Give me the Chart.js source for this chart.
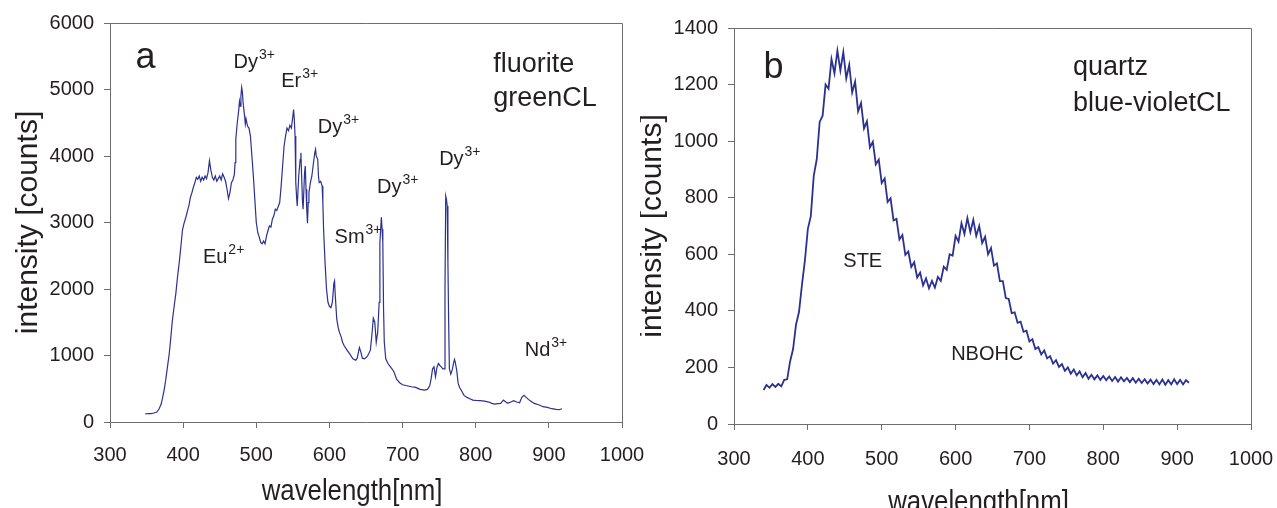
<!DOCTYPE html>
<html>
<head>
<meta charset="utf-8">
<script src="https://cdn.jsdelivr.net/npm/chart.js@4/dist/chart.umd.min.js"></script>
<style>
  html, body { margin: 0; padding: 0; background: #fff; }
  #wrap { position: relative; width: 1277px; height: 508px; overflow: hidden; }
  #chart-a { position: absolute; left: 0; top: 0; }
  #chart-b { position: absolute; left: 640px; top: 0; }
</style>
</head>
<body>
<div id="wrap">
  <canvas id="chart-a" width="680" height="508"></canvas>
  <canvas id="chart-b" width="637" height="508"></canvas>
</div>
<script>
// --- Data: (a) fluorite, green CL ---
const waveA = [348,352,356,360,364,367,370,372,374,376,378,381,383,385,387,390,392,395,397,399,401,404,406,408,410,412,414,416,418,420,422,424,426,428,430,432,434,436,438,440,442,444,446,448,450,452,454,456,458,460,462,464,466,468,470,471,472,474,476,477,478,479,480,481,482,484,485,486,488,490,492,494,496,498,500,502,504,506,508,510,512,514,516,518,520,522,524,526,528,530,532,534,536,538,540,542,544,546,548,550,551,552,553,554,555,556,558,560,561,562,563,564,566,567,568,569,570,571,572,574,576,578,580,581,582,584,585,586,588,590,591,592,594,596,598,600,602,604,606,607,608,610,612,614,616,618,620,624,628,632,636,638,641,643,645,648,652,656,658,660,662,664,666,668,669,671,672,673,674,675,677,680,684,688,692,696,700,706,712,718,724,730,734,737,739,741,743,745,747,749,751,753,755,757,758,759,760,761,762,763,764,766,768,770,771,772,774,776,778,780,784,788,792,796,800,806,812,818,822,826,830,834,838,841,844,848,852,856,860,863,866,869,872,876,880,886,892,898,904,910,914,918];
const intensA = [120,128,125,135,150,195,270,370,480,620,780,1030,1250,1500,1680,1930,2150,2430,2650,2880,2980,3090,3180,3260,3380,3450,3530,3600,3680,3650,3700,3620,3680,3640,3700,3660,3750,3930,3780,3680,3640,3700,3620,3660,3700,3640,3730,3680,3620,3500,3360,3450,3600,3640,3720,3900,4250,4500,4690,4820,4750,4900,5030,4960,4800,4600,4480,4560,4450,4420,4300,4000,3700,3350,3000,2850,2780,2700,2680,2720,2680,2800,2880,2950,2930,3050,3100,3200,3180,3240,3300,3550,3850,4150,4300,4420,4380,4460,4420,4600,4700,4550,4300,3600,3400,3250,3700,3950,4050,3700,3350,3200,3750,3850,3500,3200,2990,3300,3450,3600,3700,3880,4050,4100,4000,3950,3700,3600,3620,3550,3300,2900,2400,2000,1800,1740,1720,1800,2080,2120,1900,1550,1420,1340,1280,1200,1150,1080,1020,950,930,960,1120,1050,960,950,990,1080,1300,1560,1500,1200,1350,1800,2700,3080,2900,2700,1700,1200,950,880,820,760,640,590,560,545,530,520,490,480,490,540,650,800,830,680,820,880,850,830,800,800,2000,3400,3350,3250,2400,1500,800,720,790,900,940,900,780,580,520,480,400,370,350,330,325,320,315,300,280,270,275,280,330,300,280,300,320,300,290,370,400,370,340,310,280,260,230,220,200,190,185,200];

// --- Data: (b) quartz, blue-violet CL ---
const waveB = [340,344,348,352,356,360,364,368,372,376,380,384,388,392,396,400,404,408,412,416,420,424,428,432,436,440,444,448,452,456,460,464,468,472,476,480,484,488,492,496,500,504,508,512,516,520,524,528,532,536,540,544,548,552,556,560,564,568,572,576,580,584,588,592,596,600,604,608,612,616,620,624,628,632,636,640,644,648,652,656,660,664,668,672,676,680,684,688,692,696,700,704,708,712,716,720,724,728,732,736,740,744,748,752,756,760,764,768,772,776,780,784,788,792,796,800,804,808,812,816,820,824,828,832,836,840,844,848,852,856,860,864,868,872,876,880,884,888,892,896,900,904,908,912,916];
const intensB = [120,138,128,141,131,142,133,156,158,222,265,352,396,492,578,690,735,878,935,1068,1090,1200,1185,1290,1240,1320,1250,1315,1222,1270,1172,1210,1105,1135,1045,1070,978,998,918,935,852,868,785,798,720,725,652,668,598,610,555,572,518,535,490,515,480,506,482,520,506,556,545,600,595,665,645,710,672,728,678,722,665,700,640,662,600,622,560,568,505,505,445,442,392,395,358,362,326,330,292,300,265,272,246,260,232,240,214,226,202,212,188,200,178,193,172,186,165,180,160,174,158,172,156,170,155,168,152,166,150,165,151,163,148,162,146,160,145,158,143,157,141,156,140,157,139,155,140,158,141,156,140,155,146];

// --- Axis ticks ---
const xMin = 300, xMax = 1000, xStep = 100;
const yMaxA = 6000, yStepA = 1000;
const yMaxB = 1400, yStepB = 200;

// --- Text labels (anchored in data units: wavelength, counts) ---
const labelsA = [
  { text: 'a', x: 335, y: 5330, size: 36 },
  { text: 'fluorite', x: 824, y: 5270, size: 27 },
  { text: 'greenCL', x: 824, y: 4755, size: 27 },
  { text: 'Dy', sup: '3+', x: 469, y: 5324, size: 20 },
  { text: 'Er', sup: '3+', x: 534, y: 5043, size: 20 },
  { text: 'Dy', sup: '3+', x: 584, y: 4347, size: 20 },
  { text: 'Dy', sup: '3+', x: 665, y: 3449, size: 20 },
  { text: 'Dy', sup: '3+', x: 750, y: 3865, size: 20 },
  { text: 'Sm', sup: '3+', x: 607, y: 2697, size: 20 },
  { text: 'Eu', sup: '2+', x: 427, y: 2396, size: 20 },
  { text: 'Nd', sup: '3+', x: 867, y: 993, size: 20 }
];
const labelsB = [
  { text: 'b', x: 340, y: 1225, size: 36 },
  { text: 'quartz', x: 759, y: 1234, size: 27 },
  { text: 'blue-violetCL', x: 759, y: 1107, size: 27 },
  { text: 'STE', x: 448, y: 556, size: 20 },
  { text: 'NBOHC', x: 594, y: 226, size: 20 }
];

const FONT = '"Liberation Sans", Arial, Helvetica, sans-serif';
const TEXT = '#231f20';
const AXIS = '#6d6e71';
const LINE = '#2b3190';

// frame, axis titles and text labels
const decor = {
  id: 'decor',
  afterDatasetsDraw(chart, args, opts) {
    const { ctx, chartArea: a, scales } = chart;
    ctx.save();
    // box round the plot
    ctx.strokeStyle = AXIS;
    ctx.lineWidth = 1;
    ctx.beginPath();
    ctx.moveTo(a.left, a.top + 0.5);
    ctx.lineTo(a.right + 0.5, a.top + 0.5);
    ctx.lineTo(a.right + 0.5, a.bottom);
    ctx.stroke();

    ctx.fillStyle = TEXT;
    ctx.textAlign = 'left';
    ctx.textBaseline = 'alphabetic';
    opts.labels.forEach(l => {
      const px = scales.x.getPixelForValue(l.x);
      const py = scales.y.getPixelForValue(l.y);
      ctx.font = l.size + 'px ' + FONT;
      ctx.fillText(l.text, px, py);
      if (l.sup) {
        const w = ctx.measureText(l.text).width;
        ctx.font = Math.round(l.size * 0.68) + 'px ' + FONT;
        ctx.fillText(l.sup, px + w + 1, py - l.size * 0.45);
      }
    });

    // y title
    ctx.font = '30px ' + FONT;
    ctx.textAlign = 'center';
    ctx.save();
    ctx.translate(a.left - 73, (a.top + a.bottom) / 2);
    ctx.rotate(-Math.PI / 2);
    ctx.fillText('intensity [counts]', 0, 0);
    ctx.restore();

    // x title (slightly condensed like the original)
    ctx.save();
    ctx.translate((a.left + a.right) / 2 - 14, a.bottom + opts.xTitleGap);
    ctx.scale(0.86, 1);
    ctx.fillText('wavelength[nm]', 0, 0);
    ctx.restore();
    ctx.restore();
  }
};

function makeChart(id, waves, values, yMax, yStep, plot, labels) {
  const ctx = document.getElementById(id).getContext('2d');
  return new Chart(ctx, {
    type: 'line',
    data: {
      datasets: [{
        data: waves.map((w, i) => ({ x: w, y: values[i] })),
        borderColor: LINE,
        borderWidth: plot.lineWidth,
        pointRadius: 0,
        tension: 0,
        fill: false
      }]
    },
    options: {
      responsive: false,
      animation: false,
      devicePixelRatio: 1,
      layout: { padding: { left: 0, top: plot.top, right: plot.right, bottom: 0 } },
      plugins: {
        legend: { display: false },
        tooltip: { enabled: false },
        decor: { labels: labels, xTitleGap: plot.xTitleGap }
      },
      scales: {
        x: {
          type: 'linear',
          min: xMin, max: xMax,
          ticks: { stepSize: xStep, padding: plot.xPad, color: TEXT, font: { family: FONT, size: 20 }, maxRotation: 0,
                   callback: v => String(v) },
          grid: { drawOnChartArea: false, drawTicks: true, tickLength: 6, color: AXIS },
          border: { color: AXIS, width: 1 },
          afterFit: s => { s.height = plot.xAxisH; s.paddingLeft = 0; s.paddingRight = 0; }
        },
        y: {
          min: 0, max: yMax,
          ticks: { stepSize: yStep, padding: 10, color: TEXT, font: { family: FONT, size: 20 },
                   callback: v => String(v) },
          grid: { drawOnChartArea: false, drawTicks: true, tickLength: 6, color: AXIS },
          border: { color: AXIS, width: 1 },
          afterFit: s => { s.width = plot.yAxisW; s.paddingTop = 0; s.paddingBottom = 0; }
        }
      }
    },
    plugins: [decor]
  });
}

makeChart('chart-a', waveA, intensA, yMaxA, yStepA,
  { top: 23, right: 58, yAxisW: 110, xAxisH: 86, xPad: 15, xTitleGap: 78, lineWidth: 1.2 }, labelsA);
makeChart('chart-b', waveB, intensB, yMaxB, yStepB,
  { top: 28, right: 26, yAxisW: 94, xAxisH: 84, xPad: 17, xTitleGap: 87, lineWidth: 1.8 }, labelsB);
</script>
</body>
</html>
